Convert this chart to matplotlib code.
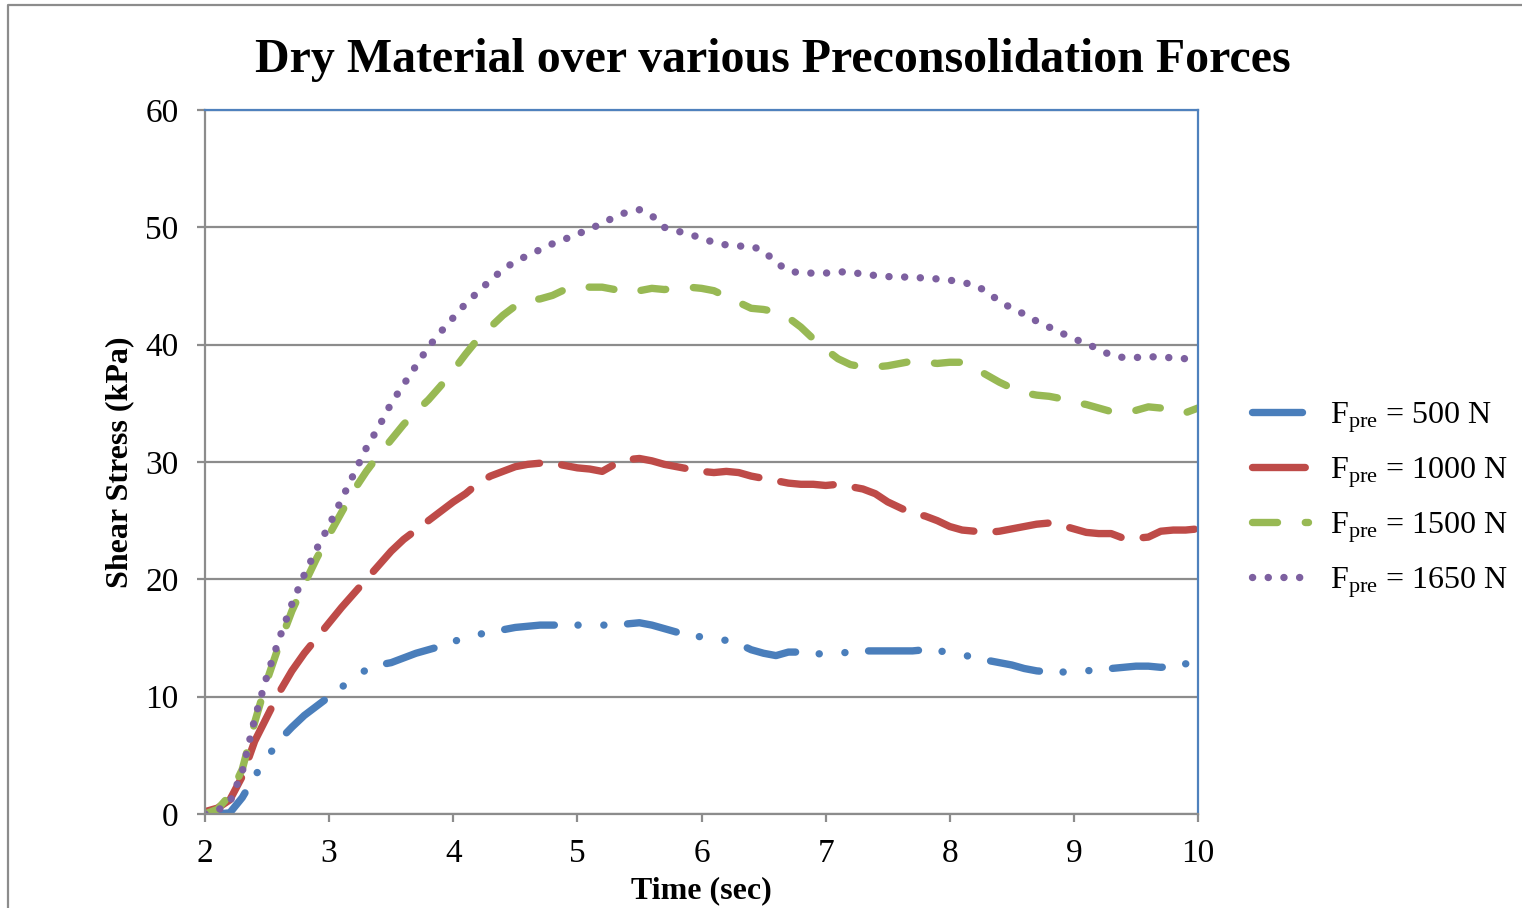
import numpy as np
import matplotlib
matplotlib.use("Agg")
import matplotlib.pyplot as plt
from matplotlib.lines import Line2D

plt.rcParams["font.family"] = ["Liberation Serif", "DejaVu Serif"]
plt.rcParams["mathtext.fontset"] = "custom"
plt.rcParams["mathtext.rm"] = "Liberation Serif"
plt.rcParams["mathtext.it"] = "Liberation Serif:italic"
plt.rcParams["lines.scale_dashes"] = False

# sample times (sec)
time_s = np.round(np.arange(2.0, 10.01, 0.1), 1)

# shear stress (kPa) for each preconsolidation force
stress_500 = [0.0, 0.0, 0.1, 1.4, 3.2, 4.8, 6.3, 7.4, 8.4, 9.2,
              10.0, 10.8, 11.6, 12.3, 12.7, 12.9, 13.3, 13.7, 14.0, 14.3,
              14.7, 15.0, 15.3, 15.5, 15.7, 15.9, 16.0, 16.1, 16.1, 16.1,
              16.1, 16.1, 16.1, 16.1, 16.2, 16.3, 16.1, 15.8, 15.5, 15.2,
              15.1, 14.9, 14.8, 14.5, 14.0, 13.7, 13.5, 13.8, 13.8, 13.7,
              13.6, 13.7, 13.8, 13.9, 13.9, 13.9, 13.9, 13.9, 14.0, 13.9,
              13.8, 13.6, 13.3, 13.1, 12.9, 12.7, 12.4, 12.2, 12.1, 12.1,
              12.1, 12.2, 12.3, 12.4, 12.5, 12.6, 12.6, 12.5, 12.6, 12.8, 12.9]
stress_1000 = [0.2, 0.5, 1.2, 3.2, 6.2, 8.3, 10.4, 12.2, 13.7, 15.0,
               16.3, 17.6, 18.8, 20.0, 21.2, 22.4, 23.4, 24.2, 25.0, 25.8,
               26.6, 27.3, 28.2, 28.8, 29.2, 29.6, 29.8, 29.9, 29.9, 29.7,
               29.5, 29.4, 29.2, 29.8, 30.2, 30.3, 30.1, 29.8, 29.6, 29.4,
               29.2, 29.1, 29.2, 29.1, 28.8, 28.6, 28.4, 28.2, 28.1, 28.1,
               28.0, 28.1, 27.9, 27.7, 27.3, 26.6, 26.1, 25.6, 25.4, 25.0,
               24.5, 24.2, 24.1, 24.0, 24.1, 24.3, 24.5, 24.7, 24.8, 24.6,
               24.3, 24.0, 23.9, 23.9, 23.5, 23.5, 23.6, 24.1, 24.2, 24.2, 24.3]
stress_1500 = [0.0, 0.4, 1.6, 3.8, 7.8, 11.4, 14.5, 17.3, 19.6, 21.8,
               23.8, 25.7, 27.6, 29.2, 30.6, 31.9, 33.2, 34.3, 35.3, 36.5,
               37.8, 39.2, 40.5, 41.5, 42.5, 43.3, 43.8, 43.9, 44.2, 44.7,
               45.0, 44.9, 44.9, 44.7, 44.4, 44.6, 44.8, 44.7, 44.8, 44.9,
               44.8, 44.6, 44.1, 43.6, 43.1, 43.0, 42.8, 42.3, 41.5, 40.5,
               39.6, 38.8, 38.3, 38.1, 38.1, 38.2, 38.4, 38.6, 38.5, 38.4,
               38.5, 38.5, 38.0, 37.4, 36.8, 36.3, 35.9, 35.7, 35.6, 35.4,
               35.1, 34.9, 34.6, 34.3, 34.2, 34.4, 34.7, 34.6, 34.2, 34.2, 34.6]
stress_1650 = [0.0, 0.3, 1.0, 3.6, 8.1, 11.8, 15.0, 17.9, 20.4, 22.6,
               24.6, 26.8, 29.0, 31.2, 33.0, 35.0, 36.6, 38.2, 39.8, 41.1,
               42.3, 43.5, 44.5, 45.5, 46.4, 47.1, 47.6, 48.1, 48.6, 49.0,
               49.4, 49.9, 50.3, 50.9, 51.3, 51.5, 51.0, 50.0, 49.7, 49.4,
               49.1, 48.7, 48.5, 48.4, 48.4, 48.0, 47.0, 46.3, 46.1, 46.1,
               46.1, 46.2, 46.2, 46.0, 45.9, 45.8, 45.8, 45.7, 45.7, 45.6,
               45.5, 45.3, 45.1, 44.5, 43.7, 43.1, 42.6, 42.0, 41.5, 41.0,
               40.5, 40.1, 39.6, 39.1, 38.9, 38.9, 39.0, 38.9, 38.9, 38.8, 38.5]

labels = [r"F$_{\mathrm{pre}}$ = 500 N", r"F$_{\mathrm{pre}}$ = 1000 N",
          r"F$_{\mathrm{pre}}$ = 1500 N", r"F$_{\mathrm{pre}}$ = 1650 N"]

fig = plt.figure(figsize=(15.22, 9.08), dpi=100)
ax = fig.add_axes([205/1522, 1-814/908, (1198-205)/1522, (814-110)/908])

lw = 5.3
ax.plot(time_s, stress_500, color="#4A7EBB", lw=lw, dash_capstyle="round",
        dashes=(36, 17, 0.1, 18.5, 0.1, 17), label=labels[0])
ax.plot(time_s, stress_1000, color="#BE4B48", lw=lw, dash_capstyle="round",
        dashes=(38, 16), label=labels[1])
ax.plot(time_s, stress_1500, color="#98B954", lw=lw, dash_capstyle="round",
        dashes=(18, 20), label=labels[2])
ax.plot(time_s, stress_1650, color="#7D60A0", lw=lw, dash_capstyle="round",
        dashes=(0.1, 11.2), label=labels[3])

ax.set_xlim(2, 10)
ax.set_ylim(0, 60)
ax.set_xticks(range(2, 11))
ax.set_yticks(range(0, 61, 10))
ax.grid(axis="y", color="#8C8C8C", lw=1.6)
ax.set_axisbelow(True)

gray = "#8C8C8C"
for s in ["left", "bottom"]:
    ax.spines[s].set_color(gray)
    ax.spines[s].set_linewidth(1.6)
for s in ["top", "right"]:
    ax.spines[s].set_color("#4F81BD")
    ax.spines[s].set_linewidth(1.6)

ax.tick_params(axis="both", direction="out", length=6, width=1.6, color=gray, labelsize=24)
ax.tick_params(axis="y", pad=13)
ax.tick_params(axis="x", pad=12)

ax.set_xlabel("Time (sec)", fontsize=23, fontweight="bold", labelpad=5)
ax.set_ylabel("Shear Stress (kPa)", fontsize=23, fontweight="bold", labelpad=8)
fig.suptitle("Dry Material over various Preconsolidation Forces", x=0.508, y=0.958,
             fontsize=34.5, fontweight="bold")

fig.legend(loc="center left", bbox_to_anchor=(1252/1522, 1-500/908), frameon=False,
           fontsize=23, handlelength=1.75, handletextpad=0.7, labelspacing=0.64,
           borderpad=0, borderaxespad=0)

# outer chart border (cropped at right and bottom)
fig.add_artist(Line2D([8/1522, 8/1522, 1.0], [0.0, 1-5/908, 1-5/908],
                      transform=fig.transFigure, color=gray, lw=1.6))

plt.savefig("out.png", dpi=100)
plt.close()
